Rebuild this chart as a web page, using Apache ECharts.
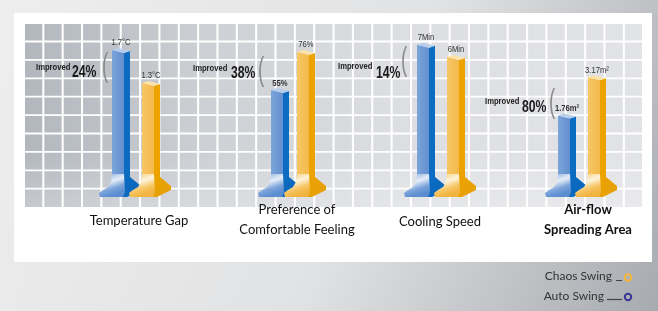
<!DOCTYPE html>
<html><head><meta charset="utf-8">
<script src="https://cdn.jsdelivr.net/npm/echarts@6.0.0/dist/echarts.min.js"></script>
<style>html,body{margin:0;padding:0;background:#fff}#c{width:658px;height:311px}</style>
</head><body><div id="c"></div>
<script>
// ---- data ----
const categories = ['Temperature Gap', 'Preference of\nComfortable Feeling', 'Cooling Speed', 'Air-flow\nSpreading Area'];
const seriesNames = ['Auto Swing', 'Chaos Swing'];
const autoSwing = [1.7, 55, 7, 1.76];
const chaosSwing = [1.3, 76, 6, 3.17];
const autoLabels = ['1.7°C', '55%', '7Min', '1.76m²'];
const chaosLabels = ['1.3°C', '76%', '6Min', '3.17m²'];
const improved = ['24%', '38%', '14%', '80%'];

// ---- layout / style ----
const axisMin = [0, 0, -5, -1];
const axisMax = [1.821, 82.6, 7.4, 4.55];
const gridLeft = [106, 267, 411, 552];
const gridWidth = [60, 52, 60, 60];
const GT = 40, GH = 150;

const BLUE = {fl:'#7ca4da', fr:'#638fcf', side:'#0b6cc2', cap:'#b8cdec', dark:'#0a66bb', hi:'#e6edf8', foot:'#5b8ed0'};
const ORANGE = {fl:'#f7c665', fr:'#f3ba4c', side:'#eca300', cap:'#fde3a8', dark:'#e5a00a', hi:'#fdf3dc', foot:'#f1b440'};
const FONT = "Lato, 'Open Sans', sans-serif";
const NARROW = "'Liberation Sans', 'DejaVu Sans', sans-serif";

function makeRender(gi, col, labels, boldIdx) {
  return function (params, api) {
    const cat = api.value(0), val = api.value(1);
    const p = api.coord([cat, val]);
    const b = api.coord([cat, axisMin[gi]]);
    const cx = p[0], yt = p[1], yb = b[1];
    const x0 = cx - 9, x1 = x0 + 12, x2 = x1 + 6;
    const lab = labels[gi];
    const bold = boldIdx.indexOf(gi) >= 0;
    return {
      type: 'group',
      children: [
        {type: 'polygon', shape: {points: [[x1, yt + 3], [x2, yt + 1], [x2, yb - 12], [x1, yb - 10]]}, style: {fill: col.side}},
        {type: 'polygon', shape: {points: [[x0, yt], [x1, yt + 3], [x1, yb - 10], [x0, yb - 12]]},
          style: {fill: {type: 'linear', x: 0, y: 0, x2: 1, y2: 0, colorStops: [{offset: 0, color: col.fl}, {offset: 1, color: col.fr}]}}},
        {type: 'polygon', shape: {points: [[x0, yt], [x0 + 6, yt - 2], [x2, yt + 1], [x1, yt + 3]]}, style: {fill: col.cap}},
        {type: 'polygon', shape: {points: [[x1, yb - 12], [x2, yb - 13], [x2 + 11, yb - 4], [x2 + 11, yb], [x1 + 3, yb + 7], [x1 - 2, yb + 7]]},
          style: {fill: {type: 'linear', x: 0, y: 0, x2: 1, y2: 1, colorStops: [{offset: 0, color: col.side}, {offset: 1, color: col.dark}]}}},
        {type: 'polygon', shape: {points: [[x0, yb - 16], [x0 - 1, yb - 8], [x0 - 4, yb - 3], [x0 - 9, yb], [x0 - 13, yb + 3], [x0 - 12, yb + 7], [x1 - 1, yb + 7], [x1 + 1, yb + 2], [x1, yb - 16]]},
          style: {fill: {type: 'linear', x: 0, y: 0, x2: 0.3, y2: 1, colorStops: [{offset: 0, color: col.fl}, {offset: 0.45, color: col.hi}, {offset: 0.75, color: col.fl}, {offset: 1, color: col.foot}]}}},
        {type: 'text', x: (x0 + x2) / 2, y: yt - 7, scaleX: 0.85,
          style: {text: lab, x: 0, y: 0, align: 'center', textAlign: 'center', verticalAlign: 'middle', textVerticalAlign: 'middle',
          font: (bold ? 'bold ' : '') + '9px ' + NARROW, fill: '#333'}}
      ]
    };
  };
}

const grids = [], xAxes = [], yAxes = [], series = [];
for (let g = 0; g < 4; g++) {
  grids.push({left: gridLeft[g], width: gridWidth[g], top: GT, height: GH});
  xAxes.push({type: 'category', gridIndex: g, data: seriesNames, show: false});
  yAxes.push({type: 'value', gridIndex: g, min: axisMin[g], max: axisMax[g], show: false, splitLine: {show: false}});
  series.push({type: 'custom', name: seriesNames[0], xAxisIndex: g, yAxisIndex: g, z: 3,
    renderItem: makeRender(g, BLUE, autoLabels, [1, 3]), data: [[0, autoSwing[g]]]});
  series.push({type: 'custom', name: seriesNames[1], xAxisIndex: g, yAxisIndex: g, z: 4,
    renderItem: makeRender(g, ORANGE, chaosLabels, []), data: [[1, chaosSwing[g]]]});
}

// ---- decoration ----
const gfx = [];
gfx.push({type: 'rect', z: -10, shape: {x: 0, y: 0, width: 658, height: 311},
  style: {fill: {type: 'linear', x: 0, y: 0, x2: 1, y2: 1, colorStops: [{offset: 0, color: '#eeeeef'}, {offset: 0.55, color: '#e1e2e3'}, {offset: 1, color: '#a7aaaf'}]}}});
gfx.push({type: 'rect', z: -9, shape: {x: 14, y: 13, width: 638, height: 249}, style: {fill: '#ffffff'}});
gfx.push({type: 'rect', z: -8, shape: {x: 25, y: 24, width: 617, height: 183},
  style: {fill: {type: 'linear', x: 0, y: 0, x2: 1, y2: 0, colorStops: [{offset: 0, color: '#b2b7be'}, {offset: 0.3, color: '#cdd0d4'}, {offset: 0.6, color: '#dcdee1'}, {offset: 1, color: '#e2e3e6'}]}}});
gfx.push({type: 'rect', z: -8, shape: {x: 25, y: 150, width: 617, height: 57},
  style: {fill: {type: 'linear', x: 0, y: 0, x2: 0, y2: 1, colorStops: [{offset: 0, color: 'rgba(255,255,255,0)'}, {offset: 1, color: 'rgba(255,255,255,0.25)'}]}}});
for (let i = 1; i < 32; i++) {
  gfx.push({type: 'rect', z: -7, shape: {x: 25 + i * 19.35 - 2.05, y: 24, width: 2.05, height: 183}, style: {fill: '#ffffff'}});
}
for (let j = 1; j < 10; j++) {
  gfx.push({type: 'rect', z: -7, shape: {x: 25, y: 24 + j * 18.4 - 1.8, width: 617, height: 1.8}, style: {fill: '#ffffff'}});
}
// category labels
const catPos = [[139, 221, false], [297, 220, false], [440, 222, false], [588, 220, true]];
categories.forEach((c, i) => {
  gfx.push({type: 'text', z: 5, style: {text: c, x: catPos[i][0], y: catPos[i][1], align: 'center', textAlign: 'center', verticalAlign: 'middle', textVerticalAlign: 'middle',
    font: (catPos[i][2] ? 'bold ' : '') + '13px ' + FONT, lineHeight: 20, fill: '#111'}});
});
// improvement annotations
const impPos = [[36, 68, 72, 72, 102, 67], [193, 69, 231, 73, 258, 71], [338, 67, 376, 73, 401, 61], [485, 102, 522, 107, 549, 103]];
improved.forEach((t, i) => {
  const p = impPos[i];
  gfx.push({type: 'text', z: 5, x: p[0], y: p[1], scaleX: 0.9, style: {text: 'Improved', x: 0, y: 0, verticalAlign: 'middle', textVerticalAlign: 'middle', font: 'bold 8.5px ' + NARROW, fill: '#222'}});
  gfx.push({type: 'text', z: 5, x: p[2], y: p[3], scaleX: 0.72, style: {text: t, x: 0, y: 0, verticalAlign: 'middle', textVerticalAlign: 'middle', font: 'bold 17px ' + NARROW, fill: '#1a1a1a'}});
  gfx.push({type: 'text', z: 5, x: p[4], y: p[5], scaleX: 0.55, style: {text: '(', x: 0, y: 0, verticalAlign: 'middle', textVerticalAlign: 'middle', font: '34px ' + NARROW, fill: '#8c8c8c'}});
});
// legend
gfx.push({type: 'text', z: 5, style: {text: seriesNames[1], x: 612, y: 276, align: 'right', textAlign: 'right', verticalAlign: 'middle', textVerticalAlign: 'middle', font: '12px ' + FONT, fill: '#333'}});
gfx.push({type: 'line', z: 5, shape: {x1: 616, y1: 280.5, x2: 622, y2: 280.5}, style: {stroke: '#444', lineWidth: 1}});
gfx.push({type: 'circle', z: 5, shape: {cx: 628, cy: 277.5, r: 3.2}, style: {fill: 'none', stroke: '#f5b53c', lineWidth: 2}});
gfx.push({type: 'text', z: 5, style: {text: seriesNames[0], x: 604, y: 296, align: 'right', textAlign: 'right', verticalAlign: 'middle', textVerticalAlign: 'middle', font: '12px ' + FONT, fill: '#333'}});
gfx.push({type: 'line', z: 5, shape: {x1: 607, y1: 299.5, x2: 622, y2: 299.5}, style: {stroke: '#444', lineWidth: 1.2}});
gfx.push({type: 'circle', z: 5, shape: {cx: 628, cy: 297, r: 3.2}, style: {fill: 'none', stroke: '#3b3595', lineWidth: 2}});

const chart = echarts.init(document.getElementById('c'), null, {renderer: 'canvas'});
chart.setOption({
  animation: false,
  grid: grids, xAxis: xAxes, yAxis: yAxes, series: series,
  graphic: {elements: gfx}
});
</script></body></html>
